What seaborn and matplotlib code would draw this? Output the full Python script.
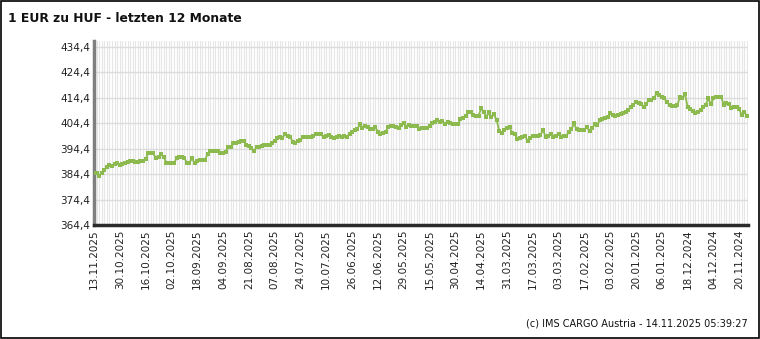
import numpy as np
import pandas as pd
import matplotlib
matplotlib.use("Agg")
import matplotlib.pyplot as plt
import seaborn as sns

# ---- data (newest first, as displayed left to right) ----
holidays = ["2024-12-25", "2024-12-26", "2025-01-01", "2025-04-18", "2025-04-21", "2025-05-01"]
dates = pd.bdate_range("2024-11-15", "2025-11-13")
dates = dates[~dates.isin(pd.to_datetime(holidays))][::-1]

values = [
    384.7, 385.0, 383.6, 385.0, 386.0, 387.0, 388.0, 387.5, 388.2, 388.8,
    388.0, 388.3, 388.8, 389.0, 389.5, 389.4, 389.2, 389.3, 389.5, 389.6,
    390.2, 392.8, 392.6, 392.5, 390.6, 391.0, 392.1, 391.2, 388.8, 388.6,
    388.6, 388.6, 390.6, 391.2, 391.0, 390.8, 388.8, 388.8, 390.6, 388.6,
    389.5, 389.9, 389.9, 389.9, 392.2, 393.4, 393.4, 393.4, 393.4, 392.5,
    392.8, 393.1, 395.1, 394.9, 396.7, 396.7, 397.1, 397.2, 397.3, 395.8,
    395.5, 394.5, 393.5, 395.1, 394.9, 395.3, 395.8, 395.8, 395.8, 396.4,
    397.5, 398.4, 398.8, 398.4, 400.1, 399.5, 399.0, 397.1, 396.7, 397.2,
    397.7, 399.0, 398.9, 398.8, 398.8, 399.5, 400.3, 400.2, 400.0, 398.8,
    399.2, 399.7, 398.8, 398.4, 398.9, 399.4, 398.8, 399.3, 398.8, 400.1,
    400.8, 401.5, 401.9, 403.9, 402.6, 403.2, 403.0, 402.2, 401.9, 403.0,
    400.8, 400.3, 400.6, 401.0, 403.0, 403.3, 403.2, 403.0, 402.6, 403.6,
    404.3, 402.7, 403.6, 403.3, 403.3, 403.3, 402.1, 402.3, 402.4, 402.6,
    403.3, 404.3, 405.0, 405.6, 404.9, 405.3, 404.0, 404.9, 404.3, 404.0,
    404.0, 404.0, 405.9, 406.5, 407.2, 408.8, 408.8, 407.5, 407.3, 407.3,
    410.2, 408.8, 406.6, 408.6, 406.6, 407.8, 405.6, 401.4, 400.6, 401.5,
    402.3, 402.7, 400.6, 400.3, 398.1, 398.4, 398.8, 399.3, 397.5, 398.4,
    399.3, 399.3, 399.3, 399.7, 401.7, 399.0, 399.3, 400.3, 398.8, 399.3,
    400.3, 399.0, 399.2, 399.3, 401.0, 401.9, 404.3, 401.9, 401.8, 401.7,
    401.7, 402.7, 401.4, 402.3, 403.9, 403.6, 405.6, 405.9, 406.2, 406.6,
    408.2, 407.5, 407.2, 407.5, 407.9, 408.4, 408.8, 409.5, 410.6, 411.5,
    412.8, 412.4, 411.9, 410.6, 411.9, 413.4, 413.4, 414.1, 416.1, 415.4,
    414.5, 414.3, 412.5, 411.5, 411.1, 411.1, 411.3, 414.5, 414.1, 415.8,
    410.8, 409.8, 409.2, 408.4, 408.9, 409.5, 410.8, 411.5, 414.1, 411.9,
    414.1, 414.7, 414.7, 414.7, 411.5, 412.4, 411.9, 410.2, 410.8, 410.6,
    409.8, 407.5, 408.8, 407.2,
]
n = min(len(values), len(dates))
values = values[:n]
dates = dates[:n]

y_ticks = [364.4, 374.4, 384.4, 394.4, 404.4, 414.4, 424.4, 434.4]
y_labels = [f"{v:.1f}".replace(".", ",") for v in y_ticks]

title = "1 EUR zu HUF - letzten 12 Monate"
footer = "(c) IMS CARGO Austria - 14.11.2025 05:39:27"

df = pd.DataFrame({"idx": np.arange(n), "value": values,
                   "label": [d.strftime("%d.%m.%Y") for d in dates]})

# ---- plot ----
sns.set_theme(style="white")
plt.rcParams["font.family"] = ["DejaVu Sans"]

fig = plt.figure(figsize=(7.6, 3.39), dpi=100)
ax = fig.add_axes([94 / 760, 1 - 225 / 339, (748 - 94) / 760, (225 - 41) / 339])

# vertical grid per data point
for i in df["idx"]:
    ax.axvline(i, color="#e6e6e6", lw=0.8, zorder=0)
for v in y_ticks:
    ax.axhline(v, color="#dcdcdc", lw=1.0, zorder=0.5)

sns.lineplot(data=df, x="idx", y="value", ax=ax, color="#8cba4e", lw=1.3,
             marker="s", markersize=2.5, markeredgewidth=0, zorder=3)

ax.set_xlim(0, n - 0.6)
ax.set_ylim(364.4, 436.6)
ax.set_yticks(y_ticks)
ax.set_yticklabels(y_labels, fontsize=7.5, color="#222222")
tick_idx = list(range(0, n, 10))
ax.set_xticks(tick_idx)
ax.set_xticklabels(df["label"].iloc[tick_idx], rotation=90, fontsize=7.5, color="#222222")
ax.tick_params(axis="both", length=0, pad=3)
ax.set_xlabel("")
ax.set_ylabel("")

for s in ["top", "right"]:
    ax.spines[s].set_visible(False)
ax.spines["left"].set_color("#7f7f7f")
ax.spines["left"].set_linewidth(2.5)
ax.spines["bottom"].set_color("#2a2a2a")
ax.spines["bottom"].set_linewidth(2.5)

fig.text(8 / 760, 1 - 18 / 339, title, fontsize=8.9, fontweight="bold",
         ha="left", va="center", color="#111111")
fig.text(748 / 760, 1 - 324 / 339, footer, fontsize=7, ha="right", va="center",
         color="#111111")

# figure border
fig.patches.append(plt.Rectangle((0.0007, 0.0015), 0.9986, 0.997, transform=fig.transFigure,
                                 fill=False, edgecolor="black", lw=1.2))

fig.savefig("out.png", dpi=100, facecolor="white")
